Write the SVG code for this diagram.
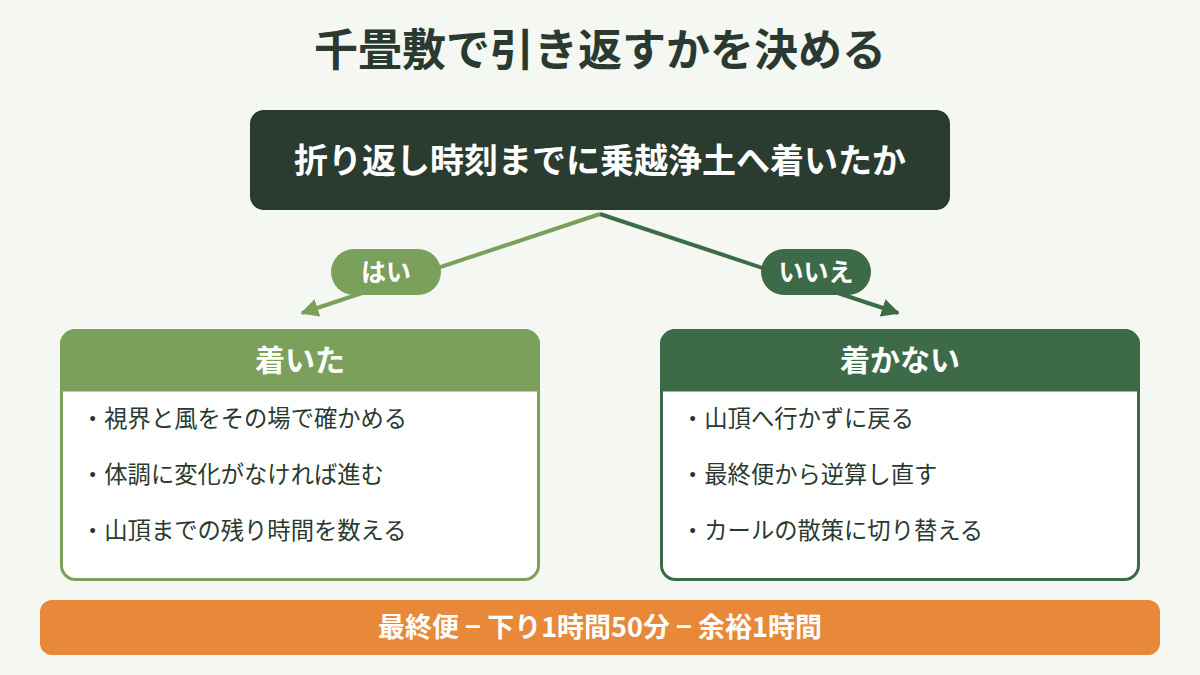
<svg xmlns="http://www.w3.org/2000/svg" width="1200" height="675" viewBox="0 0 1200 675">
<defs>
<style>
text{font-family:"Noto Sans CJK JP","Noto Sans",sans-serif;}
.title{font-size:44px;font-weight:700;fill:#2a3a30;text-anchor:middle;}
.q{font-size:34px;font-weight:700;fill:#ffffff;text-anchor:middle;}
.hd{font-size:30px;font-weight:700;fill:#ffffff;text-anchor:middle;}
.item{font-size:23.3px;fill:#2a3a30;}
.lbl{font-size:25px;font-weight:700;fill:#ffffff;text-anchor:middle;}
.bar{font-size:27px;font-weight:700;fill:#ffffff;text-anchor:middle;}
</style>
<marker id="aL" viewBox="0 0 10 10" refX="9" refY="5" markerWidth="4.5" markerHeight="4.5" orient="auto" markerUnits="strokeWidth"><path d="M0,0 L10,5 L0,10 z" fill="#7ba05b"/></marker>
<marker id="aR" viewBox="0 0 10 10" refX="9" refY="5" markerWidth="4.5" markerHeight="4.5" orient="auto" markerUnits="strokeWidth"><path d="M0,0 L10,5 L0,10 z" fill="#3d6b48"/></marker>
</defs>
<rect width="1200" height="675" fill="#f4f7f2"/>
<text class="title" x="600" y="66">千畳敷で引き返すかを決める</text>
<g id="connectors">
<line x1="600" y1="214" x2="302" y2="313" stroke="#7ba05b" stroke-width="4" marker-end="url(#aL)"/>
<line x1="600" y1="214" x2="898" y2="313" stroke="#3d6b48" stroke-width="4" marker-end="url(#aR)"/>
<g id="label-yes"><rect x="331" y="249" width="110" height="46" rx="23" fill="#7ba05b"/><text class="lbl" x="386" y="281">はい</text></g>
<g id="label-no"><rect x="761" y="249" width="110" height="46" rx="23" fill="#3d6b48"/><text class="lbl" x="816" y="281">いいえ</text></g>
</g>
<g id="question">
<rect x="250" y="110" width="700" height="100" rx="14" fill="#2a3b30"/>
<text class="q" x="600" y="173">折り返し時刻までに乗越浄土へ着いたか</text>
</g>
<g id="arrived">
<rect x="61.5" y="330.5" width="477" height="249" rx="14" fill="#ffffff" stroke="#7ba05b" stroke-width="3"/>
<path d="M61.5,390 V344.5 a14,14 0 0 1 14,-14 H524.5 a14,14 0 0 1 14,14 V390 Z" fill="#7ba05b" stroke="#7ba05b" stroke-width="3"/>
<text class="hd" x="300" y="371">着いた</text>
<text class="item" x="81" y="427">・視界と風をその場で確かめる</text>
<text class="item" x="81" y="483">・体調に変化がなければ進む</text>
<text class="item" x="81" y="539">・山頂までの残り時間を数える</text>
</g>
<g id="not-arrived">
<rect x="661.5" y="330.5" width="477" height="249" rx="14" fill="#ffffff" stroke="#3d6b48" stroke-width="3"/>
<path d="M661.5,390 V344.5 a14,14 0 0 1 14,-14 H1124.5 a14,14 0 0 1 14,14 V390 Z" fill="#3d6b48" stroke="#3d6b48" stroke-width="3"/>
<text class="hd" x="900" y="371">着かない</text>
<text class="item" x="681" y="427">・山頂へ行かずに戻る</text>
<text class="item" x="681" y="483">・最終便から逆算し直す</text>
<text class="item" x="681" y="539">・カールの散策に切り替える</text>
</g>
<g id="footer">
<rect x="40" y="600" width="1120" height="55" rx="12" fill="#e8893a"/>
<text class="bar" x="600" y="637">最終便 − 下り1時間50分 − 余裕1時間</text>
</g>
</svg>
